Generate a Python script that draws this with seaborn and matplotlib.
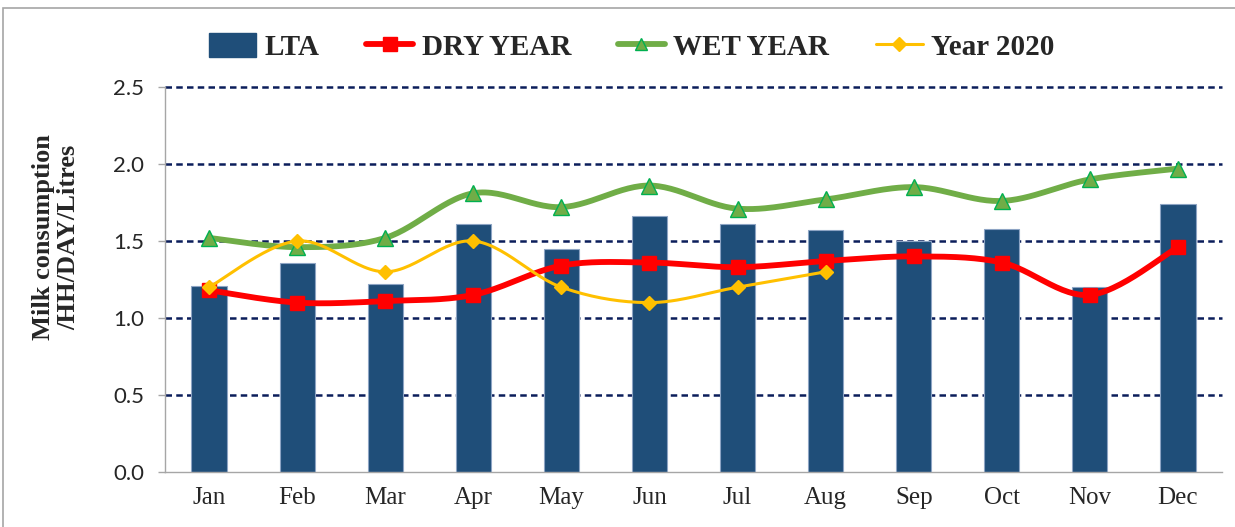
import numpy as np
import pandas as pd
import matplotlib
matplotlib.use("Agg")
import matplotlib.pyplot as plt
import seaborn as sns
from matplotlib.lines import Line2D
from matplotlib.patches import Patch, Rectangle

months = ["Jan", "Feb", "Mar", "Apr", "May", "Jun", "Jul", "Aug", "Sep", "Oct", "Nov", "Dec"]
lta = [1.21, 1.36, 1.22, 1.61, 1.45, 1.66, 1.61, 1.57, 1.50, 1.58, 1.20, 1.74]
dry_year = [1.18, 1.10, 1.11, 1.15, 1.34, 1.36, 1.33, 1.37, 1.40, 1.36, 1.15, 1.46]
wet_year = [1.52, 1.46, 1.52, 1.81, 1.72, 1.86, 1.71, 1.77, 1.85, 1.76, 1.90, 1.97]
year_2020 = [1.20, 1.50, 1.30, 1.50, 1.20, 1.10, 1.20, 1.30]
yticks = [0.0, 0.5, 1.0, 1.5, 2.0, 2.5]

BAR = "#1F4E79"
RED = "#FF0000"
GREEN = "#70AD47"
GREEN_EDGE = "#00B050"
GOLD = "#FFC000"
GRID = "#0B1D5A"

sns.set_theme(style="white")
plt.rcParams["font.family"] = ["Liberation Serif", "DejaVu Serif"]

fig = plt.figure(figsize=(12.35, 5.27), dpi=100)
ax = fig.add_axes([165 / 1235, 1 - 472 / 527, (1222 - 165) / 1235, (472 - 87) / 527])

df = pd.DataFrame({"month": months, "LTA": lta})
sns.barplot(data=df, x="month", y="LTA", ax=ax, color=BAR, width=0.40,
            edgecolor="#8DA4C4", linewidth=0.8, saturation=1, zorder=2)


def smooth(xs, ys, steps=30):
    p = np.column_stack([xs, ys]).astype(float)
    n = len(p)
    out = [p[0]]
    for i in range(n - 1):
        p0 = p[i - 1] if i > 0 else p[i]
        p1 = p[i]
        p2 = p[i + 1]
        p3 = p[i + 2] if i + 2 < n else p[i + 1]
        c1 = p1 + (p2 - p0) / 6.0
        c2 = p2 - (p3 - p1) / 6.0
        t = np.linspace(0, 1, steps)[1:, None]
        seg = ((1 - t) ** 3) * p1 + 3 * ((1 - t) ** 2) * t * c1 + 3 * (1 - t) * t ** 2 * c2 + t ** 3 * p2
        out.extend(seg)
    out = np.array(out)
    return out[:, 0], out[:, 1]


series = [
    (dry_year, RED, RED, "s", 10, 4.2, 4),
    (wet_year, GREEN, GREEN_EDGE, "^", 11, 4.2, 5),
    (year_2020, GOLD, GOLD, "D", 7.5, 2.2, 6),
]
for vals, col, ecol, mk, ms, lw, z in series:
    xs = np.arange(len(vals))
    sx, sy = smooth(xs, vals)
    ax.plot(sx, sy, color=col, lw=lw, solid_capstyle="round", zorder=z)
    ax.plot(xs, vals, ls="none", marker=mk, ms=ms, markerfacecolor=col,
            markeredgecolor=ecol, markeredgewidth=1.0, zorder=z + 0.5)

ax.set_xlim(-0.5, 11.5)
ax.set_ylim(0, 2.5)
ax.set_yticks(yticks)
ax.set_yticklabels([f"{v:.1f}" for v in yticks], family=["Lato", "DejaVu Sans"], fontsize=16)
ax.set_xticks(range(12))
ax.set_xticklabels(months, fontsize=18)
ax.set_xlabel("")
ax.set_ylabel("")

for v in yticks[1:]:
    ax.axhline(v, color=GRID, lw=1.8, ls=(0, (2.6, 1.7)), zorder=1, clip_on=False)

for s in ["top", "right"]:
    ax.spines[s].set_visible(False)
for s in ["left", "bottom"]:
    ax.spines[s].set_color("#A6A6A6")
    ax.spines[s].set_linewidth(1.0)
ax.tick_params(axis="y", length=5, width=1, color="#A6A6A6", pad=10, left=True)
ax.tick_params(axis="x", length=0, pad=11)
ax.grid(False)

fig.text(56 / 1235, 1 - 237 / 527, "Milk consumption\n/HH/DAY/Litres", rotation=90,
         ha="center", va="center", fontsize=19, fontweight="bold", multialignment="center",
         linespacing=1.15)

handles = [
    Patch(facecolor=BAR, edgecolor=BAR, label="LTA"),
    Line2D([], [], color=RED, lw=4.2, marker="s", ms=10, label="DRY YEAR"),
    Line2D([], [], color=GREEN, lw=4.2, marker="^", ms=8, markeredgecolor=GREEN_EDGE, label="WET YEAR"),
    Line2D([], [], color=GOLD, lw=2.2, marker="D", ms=7, label="Year 2020"),
]
fig.legend(handles=handles, loc="center", bbox_to_anchor=(632 / 1235, 1 - 47 / 527), ncol=4,
           frameon=False, prop={"family": "Liberation Serif", "weight": "bold", "size": 21},
           handlelength=1.6, handletextpad=0.3, columnspacing=1.6, handleheight=0.9)

fig.add_artist(Rectangle((3 / 1235, -0.05), 1.2, 1 - 8 / 527 + 0.05, transform=fig.transFigure,
                         fill=False, edgecolor="#A6A6A6", lw=1.2))

fig.savefig("out.png", dpi=100)
